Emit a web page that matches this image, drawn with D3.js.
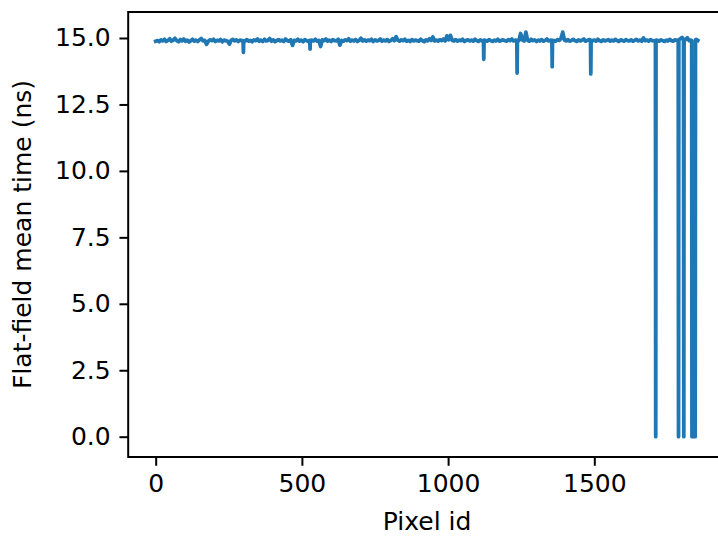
<!DOCTYPE html>
<html>
<head>
<meta charset="utf-8">
<script src="https://cdn.jsdelivr.net/npm/d3@7"></script>
<style>
  html, body { margin: 0; padding: 0; background: #fff; }
  svg { display: block; }
  text { font-family: "DejaVu Sans", sans-serif; fill: #000; }
</style>
</head>
<body>
<script>
// ---- data ----
const pixelStep = 6;            // regular samples at pixel ids 0, 6, 12, ...
const meanTime = [
  14.88, 14.90, 14.86, 14.93, 14.89, 14.95, 14.87, 14.91, 14.97, 14.88,
  14.92, 14.99, 14.90, 14.86, 14.94, 14.89, 14.96, 14.88, 14.92, 14.85,
  14.90, 14.95, 14.88, 14.92, 14.87, 14.93, 14.98, 14.89, 14.91, 14.76,
  14.88, 14.93, 14.90, 14.95, 14.87, 14.91, 14.89, 14.94, 14.86, 14.92,
  14.90, 14.88, 14.77, 14.91, 14.95, 14.89, 14.93, 14.87, 14.92, 14.90,
  14.46, 14.89, 14.94, 14.88, 14.91, 14.86, 14.93, 14.90, 14.96, 14.88,
  14.92, 14.87, 14.95, 14.89, 14.91, 14.98, 14.88, 14.93, 14.86, 14.90,
  14.94, 14.89, 14.92, 14.87, 14.96, 14.90, 14.88, 14.93, 14.72, 14.91,
  14.89, 14.95, 14.88, 14.92, 14.86, 14.94, 14.90, 14.87, 14.58, 14.92,
  14.89, 14.95, 14.88, 14.91, 14.68, 14.93, 14.90, 14.96, 14.88, 14.92,
  14.87, 14.94, 14.90, 14.89, 14.95, 14.73, 14.91, 14.88, 14.93, 14.90,
  14.97, 14.88, 14.92, 14.89, 14.94, 14.87, 14.91, 14.99, 14.89, 14.93,
  14.88, 14.92, 14.90, 14.95, 14.87, 14.93, 14.89, 14.91, 14.96, 14.88,
  14.92, 14.89, 14.94, 14.87, 14.91, 14.97, 14.90, 15.05, 14.92, 14.88,
  14.93, 14.90, 14.95, 14.88, 14.91, 14.87, 14.94, 14.89, 14.92, 14.90,
  14.88, 14.95, 14.90, 14.86, 14.93, 14.89, 14.97, 14.91, 15.04, 14.89,
  14.92, 14.88, 14.94, 14.90, 14.96, 14.89, 15.08, 14.93, 15.10, 14.91,
  14.89, 14.94, 14.88, 14.92, 14.90, 14.95, 14.87, 14.91, 14.93, 14.89,
  14.92, 14.88, 14.95, 14.90, 14.87, 14.93, 14.89, 14.20, 14.91, 14.88,
  14.94, 14.90, 14.87, 14.92, 14.89, 14.95, 14.88, 14.91, 14.93, 14.90,
  14.88, 14.94, 14.90, 14.96, 14.89, 14.92, 13.68, 14.90, 15.17, 14.93,
  14.89, 15.22, 14.91, 14.88, 14.95, 14.90, 14.93, 14.87, 14.92, 14.89,
  14.94, 14.88, 14.91, 14.96, 14.89, 14.92, 13.92, 14.90, 14.88, 14.94,
  14.91, 14.98, 15.22, 14.92, 14.89, 14.94, 14.88, 14.91, 14.95, 14.90,
  14.87, 14.93, 14.89, 14.92, 14.96, 14.88, 14.91, 14.94, 13.65, 14.90,
  14.92, 14.88, 14.95, 14.90, 14.87, 14.93, 14.89, 14.91, 14.94, 14.88,
  14.92, 14.89, 14.95, 14.90, 14.87, 14.93, 14.91, 14.88, 14.94, 14.90,
  14.89, 14.93, 14.88, 14.91, 14.95, 14.89, 14.92, 14.88, 15.00, 14.90,
  14.92, 14.88, 14.94, 14.90, 14.89, 0.00, 14.91, 14.88, 14.93, 14.90,
  14.87, 14.92, 14.89, 14.95, 14.90, 14.88, 14.93, 14.91, 0.00, 14.97,
  15.02, 0.00, 14.94, 15.01, 14.90, 14.92, 0.00, 0.00, 14.95, 14.91
];
// extra samples read next to the outlier pixels (ids between regular samples)
const extraIds = [
  299, 301, 527, 529, 1121, 1123, 1235, 1237, 1355, 1357, 1487, 1489,
  1709, 1711, 1787, 1789, 1805, 1807, 1833, 1834, 1845, 1846
];
const extraValues = [
  14.90, 14.89, 14.91, 14.90, 14.89, 14.92, 14.91, 14.89, 14.90, 14.91, 14.92, 14.89,
  14.90, 14.92, 14.91, 14.93, 14.95, 14.92, 14.90, 0.00, 0.00, 14.93
];
const xTicks = [0, 500, 1000, 1500];
const yTicks = [0, 2.5, 5, 7.5, 10, 12.5, 15];
const xLabel = "Pixel id";
const yLabel = "Flat-field mean time (ns)";

// ---- layout ----
const W = 718, H = 537;
const mLeft = 128.2, mTop = 12, mBottom = 457, mRight = 725.9;
const fontSize = 25, tickLen = 8.75, pad = 8.75;

const svg = d3.select("body").append("svg").attr("width", W).attr("height", H);

const x = d3.scaleLinear().domain([-94, 1950]).range([mLeft, mRight]);
const y = d3.scaleLinear().domain([-0.764, 15.978]).range([mBottom, mTop]);

const data = meanTime.map((v, i) => ({ id: i * pixelStep, v }))
  .concat(extraIds.map((id, i) => ({ id, v: extraValues[i] })))
  .sort((a, b) => a.id - b.id);

svg.append("defs").append("clipPath").attr("id", "clip")
  .append("rect").attr("x", mLeft).attr("y", mTop)
  .attr("width", mRight - mLeft).attr("height", mBottom - mTop);

svg.append("path")
  .datum(data)
  .attr("clip-path", "url(#clip)")
  .attr("fill", "none")
  .attr("stroke", "#1f77b4")
  .attr("stroke-width", 3.75)
  .attr("stroke-linejoin", "round")
  .attr("stroke-linecap", "square")
  .attr("d", d3.line().x(d => x(d.id)).y(d => y(d.v)));

// axes
const xAxis = d3.axisBottom(x).tickValues(xTicks).tickFormat(d3.format("d"))
  .tickSizeInner(tickLen).tickSizeOuter(0).tickPadding(pad);
const yAxis = d3.axisLeft(y).tickValues(yTicks).tickFormat(d3.format(".1f"))
  .tickSizeInner(tickLen).tickSizeOuter(0).tickPadding(pad);

const gx = svg.append("g").attr("transform", `translate(0,${mBottom})`).call(xAxis);
const gy = svg.append("g").attr("transform", `translate(${mLeft},0)`).call(yAxis);

[gx, gy].forEach(g => {
  g.select(".domain").remove();
  g.selectAll(".tick line").attr("stroke", "#000").attr("stroke-width", 2);
  g.selectAll(".tick text").attr("font-size", fontSize).attr("fill", "#000")
    .style("font-family", "'DejaVu Sans', sans-serif");
});

// spines
svg.append("rect")
  .attr("x", mLeft).attr("y", mTop)
  .attr("width", mRight - mLeft).attr("height", mBottom - mTop)
  .attr("fill", "none").attr("stroke", "#000").attr("stroke-width", 2);

// labels
svg.append("text")
  .attr("x", (mLeft + mRight) / 2).attr("y", 530)
  .attr("text-anchor", "middle").attr("font-size", fontSize)
  .text(xLabel);

svg.append("text")
  .attr("transform", `translate(31,${(mTop + mBottom) / 2}) rotate(-90)`)
  .attr("text-anchor", "middle").attr("font-size", fontSize)
  .text(yLabel);
</script>
</body>
</html>
